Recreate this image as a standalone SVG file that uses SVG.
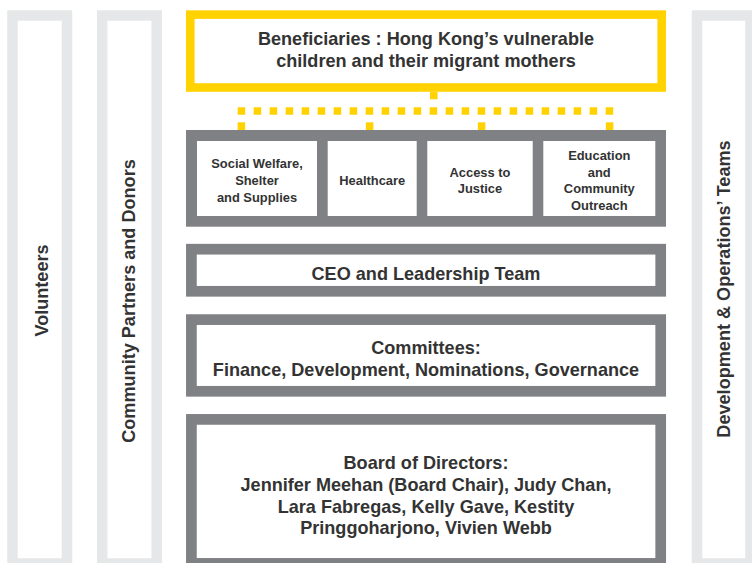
<svg xmlns="http://www.w3.org/2000/svg" width="752" height="563" viewBox="0 0 752 563">
<style>
.col{fill:#ffffff;stroke:#e6e7e8;stroke-width:10.5}
.box{fill:#ffffff;stroke:#808184;stroke-width:10.7}
.ben{fill:#ffffff;stroke:#ffd200;stroke-width:8.6}
.t{font-family:"Liberation Sans",Arial,sans-serif;font-weight:bold;fill:#333333;text-anchor:middle}
.h{font-size:18.1px}
.s{font-size:12.9px}
.conn{stroke:#ffd200;fill:none;stroke-width:7.5}
</style>
<rect width="752" height="563" fill="#ffffff"/>
<g id="volunteers">
<rect class="col" x="12.5" y="15.5" width="54.5" height="548"/>
<text class="t h" transform="translate(48,290.5) rotate(-90)">Volunteers</text>
</g>
<g id="community">
<rect class="col" x="102.2" y="15.5" width="54.5" height="548"/>
<text class="t h" transform="translate(135,301) rotate(-90)">Community Partners and Donors</text>
</g>
<g id="development">
<rect class="col" x="697" y="15.5" width="53.5" height="548"/>
<text class="t h" transform="translate(729.5,289) rotate(-90)">Development &amp; Operations’ Teams</text>
</g>
<g id="connectors">
<line class="conn" x1="433.8" y1="92" x2="433.8" y2="99.3"/>
<line class="conn" x1="237.7" y1="111" x2="613.5" y2="111" stroke-dasharray="7.5 8.5" stroke-width="8"/>
<line class="conn" x1="241.4" y1="122.3" x2="241.4" y2="130"/>
<line class="conn" x1="369.6" y1="122.3" x2="369.6" y2="130"/>
<line class="conn" x1="481.6" y1="122.3" x2="481.6" y2="130"/>
<line class="conn" x1="609.6" y1="122.3" x2="609.6" y2="130"/>
</g>
<g id="beneficiaries">
<rect class="ben" x="190.3" y="14.6" width="471.4" height="72.9"/>
<text class="t h" x="426" y="45">Beneficiaries : Hong Kong’s vulnerable</text>
<text class="t h" x="426" y="67">children and their migrant mothers</text>
</g>
<g id="services">
<rect x="186" y="130" width="480" height="96.7" fill="#808184"/>
<g id="social-welfare">
<rect x="197" y="141" width="120" height="75" fill="#ffffff"/>
<text class="t s" x="257" y="168">Social Welfare,</text>
<text class="t s" x="257" y="185">Shelter</text>
<text class="t s" x="257" y="202">and Supplies</text>
</g>
<g id="healthcare">
<rect x="327.7" y="141" width="89" height="75" fill="#ffffff"/>
<text class="t s" x="372.2" y="185">Healthcare</text>
</g>
<g id="justice">
<rect x="427.3" y="141" width="105.4" height="75" fill="#ffffff"/>
<text class="t s" x="480" y="177">Access to</text>
<text class="t s" x="480" y="193">Justice</text>
</g>
<g id="education">
<rect x="543.3" y="141" width="112" height="75" fill="#ffffff"/>
<text class="t s" x="599.3" y="160">Education</text>
<text class="t s" x="599.3" y="176.5">and</text>
<text class="t s" x="599.3" y="193">Community</text>
<text class="t s" x="599.3" y="209.5">Outreach</text>
</g>
</g>
<g id="ceo">
<rect class="box" x="191.4" y="249.2" width="469.3" height="42.1"/>
<text class="t h" x="426" y="280">CEO and Leadership Team</text>
</g>
<g id="committees">
<rect class="box" x="191.4" y="319.6" width="469.3" height="71.7"/>
<text class="t h" x="426" y="354">Committees:</text>
<text class="t h" x="426" y="376">Finance, Development, Nominations, Governance</text>
</g>
<g id="board">
<rect class="box" x="191.4" y="419.4" width="469.3" height="144"/>
<text class="t h" x="426" y="469.3">Board of Directors:</text>
<text class="t h" x="426" y="491">Jennifer Meehan (Board Chair), Judy Chan,</text>
<text class="t h" x="426" y="512.7">Lara Fabregas, Kelly Gave, Kestity</text>
<text class="t h" x="426" y="534">Pringgoharjono, Vivien Webb</text>
</g>
</svg>
